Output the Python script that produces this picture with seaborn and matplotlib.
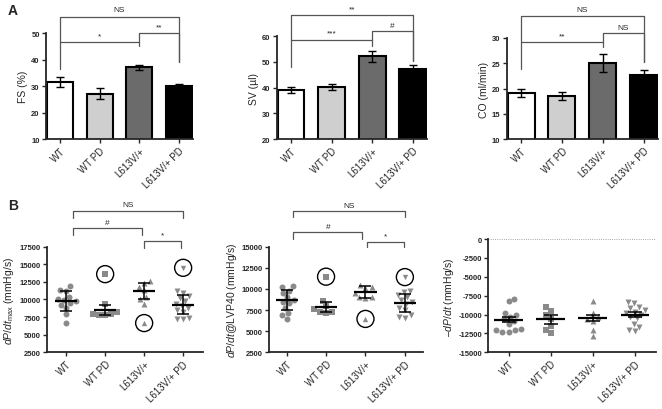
import numpy as np
import pandas as pd
import matplotlib
matplotlib.use("Agg")
import matplotlib.pyplot as plt
import seaborn as sns

# --- groups ---
groups = ["WT", "WT PD", "L613V/+", "L613V/+ PD"]
bar_colors = ["#ffffff", "#cfcfcf", "#6b6b6b", "#000000"]
markers = ["o", "s", "^", "v"]

# --- panel A: bar means and SEM ---
fs_mean = [31.5, 27.2, 37.1, 30.2]
fs_err = [1.8, 2.0, 0.9, 0.7]
sv_mean = [39.1, 40.2, 52.2, 47.2]
sv_err = [1.3, 1.1, 2.1, 1.8]
co_mean = [19.1, 18.45, 25.0, 22.7]
co_err = [0.85, 0.8, 1.8, 1.0]

# --- panel B: individual animals ---
dpmax_wt = [11900, 11300, 11200, 10400, 10100, 9900, 9800, 9500, 9200, 8800, 7900, 6700]
dpmax_wtpd = [9300, 8200, 7900, 7800, 7800, 7900]
dpmax_l613 = [12600, 12300, 11800, 11300, 10300, 10000, 9400]
dpmax_l613pd = [11200, 10900, 10500, 10200, 9800, 9400, 9100, 8800, 8500, 8200, 7300, 7200, 7200]
dpmax_outliers = [None, 13600, 6650, 14500]
dpmax_mean = [9850, 8530, 11180, 9280]
dpmax_err = [1420, 730, 1110, 1300]

lvp_wt = [10300, 10200, 9800, 9500, 9000, 8700, 8500, 8300, 7800, 7200, 6900, 6400]
lvp_wtpd = [8600, 8000, 7600, 7300, 7200, 7300]
lvp_l613 = [10500, 10200, 10100, 9500, 9000, 9000, 8900]
lvp_l613pd = [9700, 9600, 9300, 9000, 8700, 8400, 8200, 7800, 7500, 6900, 6700, 6600]
lvp_outliers = [None, 11450, 6450, 11400]
lvp_mean = [8700, 7870, 9680, 8330]
lvp_err = [1140, 630, 700, 1030]

dpmin_wt = [-7900, -8200, -9800, -10100, -10300, -10600, -10900, -11200, -11900, -12100, -12300, -12300, -12000]
dpmin_wtpd = [-9000, -9500, -10100, -10600, -11500, -12000, -12500]
dpmin_l613 = [-8200, -9800, -10300, -10600, -10800, -12000, -12900]
dpmin_l613pd = [-8400, -8500, -9000, -9200, -9400, -9600, -9800, -10000, -10300, -10500, -11200, -11600, -12100, -12200]
dpmin_mean = [-10670, -10630, -10500, -10000]
dpmin_err = [340, 600, 400, 350]

sns.set_style("ticks")
plt.rcParams["font.family"] = ["Liberation Sans", "DejaVu Sans"]
plt.rcParams["mathtext.fontset"] = "custom"
plt.rcParams["mathtext.rm"] = "Liberation Sans"
plt.rcParams["mathtext.it"] = "Liberation Sans:italic"
plt.rcParams["axes.unicode_minus"] = False

fig = plt.figure(figsize=(6.62, 4.10), dpi=100)


def style_axis(ax, ylabel, yticks, ylim, xlim):
    ax.set_ylim(*ylim)
    ax.set_xlim(*xlim)
    ax.set_yticks(yticks)
    ax.set_yticklabels([str(t) for t in yticks], fontsize=5.5, fontweight="bold")
    ax.set_xticks(range(len(groups)))
    ax.set_xticklabels(groups, fontsize=7, rotation=45, ha="right", rotation_mode="anchor")
    ax.set_xlabel("")
    ax.set_ylabel(ylabel, fontsize=7.5, labelpad=2)
    sns.despine(ax=ax)
    for s in ["left", "bottom"]:
        ax.spines[s].set_linewidth(1.3)
    ax.tick_params(width=1.0, length=3, pad=1.5)


def draw_brackets(ax, brackets):
    for xs, ys, label, lx, ly in brackets:
        ax.plot(xs, ys, color="#555555", lw=0.9, clip_on=False)
        ax.annotate(label, (lx, ly), xytext=(0, 2), textcoords="offset points",
                    ha="center", va="bottom", fontsize=6, annotation_clip=False)


# ---------- panel A ----------
bar_panels = [
    ([0.0695, 0.6585, 0.222, 0.2578], fs_mean, fs_err, "FS (%)", [10, 20, 30, 40, 50], (10, 50),
     [([0, 0, 3, 3], [36.5, 56.2, 56.2, 39], "NS", 1.5, 56.6),
      ([0, 2, 2], [46.8, 46.8, 45.2], "*", 1, 46.6),
      ([2, 2, 3, 3], [46.8, 50, 50, 39], "**", 2.5, 50)]),
    ([0.418, 0.6585, 0.227, 0.2505], sv_mean, sv_err, "SV (\u00b5l)", [20, 30, 40, 50, 60], (20, 60),
     [([0, 0, 3, 3], [47.9, 68.3, 68.3, 50.5], "**", 1.5, 68.3),
      ([0, 2, 2], [58.7, 58.7, 56.4], "***", 1, 58.7),
      ([2, 2, 3, 3], [58.7, 61.9, 61.9, 50.5], "#", 2.5, 61.9)]),
    ([0.7654, 0.6585, 0.2286, 0.2464], co_mean, co_err, "CO (ml/min)", [10, 15, 20, 25, 30], (10, 30),
     [([0, 0, 3, 3], [23.9, 34.4, 34.4, 25.2], "NS", 1.5, 34.4),
      ([0, 2, 2], [29.3, 29.3, 28.3], "**", 1, 29.1),
      ([2, 2, 3, 3], [29.3, 30.9, 30.9, 25.2], "NS", 2.5, 30.9)]),
]

for rect, means, errs, ylabel, yticks, ylim, brackets in bar_panels:
    ax = fig.add_axes(rect)
    sns.barplot(x=groups, y=means, hue=groups, palette=bar_colors, legend=False,
                edgecolor="black", linewidth=1.5, width=0.66, ax=ax)
    ax.errorbar(range(len(groups)), means, yerr=errs, fmt="none", ecolor="black",
                elinewidth=1.0, capsize=3.2, capthick=1.0, zorder=5)
    style_axis(ax, ylabel, yticks, ylim, (-0.35, 3.35))
    draw_brackets(ax, brackets)

# ---------- panel B ----------
scatter_panels = [
    ([0.0705, 0.1383, 0.2356, 0.2576],
     [dpmax_wt, dpmax_wtpd, dpmax_l613, dpmax_l613pd], dpmax_outliers, dpmax_mean, dpmax_err,
     r"$dP/dt_{\mathrm{max}}$ (mmHg/s)", list(range(2500, 17501, 2500)), (2500, 17500), (-0.5, 3.5), 4.2, 0.28,
     [([0.17, 0.17, 3, 3], [21570, 22530, 22530, 21570], "NS", 1.58, 22530),
      ([0.17, 0.17, 1.95, 1.95], [19160, 20110, 20110, 19160], "#", 1.06, 20110),
      ([2.0, 2.0, 2.95, 2.95], [17310, 18270, 18270, 17310], "*", 2.48, 18270)]),
    ([0.4068, 0.1383, 0.2322, 0.2576],
     [lvp_wt, lvp_wtpd, lvp_l613, lvp_l613pd], lvp_outliers, lvp_mean, lvp_err,
     r"$dP/dt$@LVP40 (mmHg/s)", list(range(2500, 15001, 2500)), (2500, 15000), (-0.44, 3.46), 4.2, 0.28,
     [([0.17, 0.17, 3, 3], [18480, 19190, 19190, 18480], "NS", 1.58, 19190),
      ([0.17, 0.17, 1.92, 1.92], [15910, 16700, 16700, 15910], "#", 1.05, 16700),
      ([2.03, 2.03, 2.98, 2.98], [15000, 15590, 15590, 15000], "*", 2.5, 15590)]),
    ([0.7376, 0.1383, 0.2533, 0.2763],
     [dpmin_wt, dpmin_wtpd, dpmin_l613, dpmin_l613pd], [None] * 4, dpmin_mean, dpmin_err,
     "\u2013" + r"$dP/dt$ (mmHg/s)", list(range(-15000, 1, 2500)), (-15000, 0), (-0.48, 3.5), 5.2, 0.34,
     []),
]

for (rect, values, outliers, means, errs, ylabel, yticks, ylim, xlim,
     capsize, half_w, brackets) in scatter_panels:
    ax = fig.add_axes(rect)
    for g, vals, mk, out in zip(groups, values, markers, outliers):
        sns.swarmplot(x=[g] * len(vals), y=vals, order=groups, marker=mk, color="#8a8a8a",
                      size=4.3, linewidth=0, ax=ax, warn_thresh=1)
        if out is not None:
            i = groups.index(g)
            ax.scatter([i], [out], marker=mk, s=15, color="#8a8a8a", linewidths=0, zorder=3)
            ax.scatter([i], [out], marker="o", s=150, facecolors="none",
                       edgecolors="black", linewidths=1.0, zorder=3)
    xs = np.arange(len(groups))
    ax.hlines(means, xs - half_w, xs + half_w, color="black", lw=1.6, zorder=6)
    ax.errorbar(xs, means, yerr=errs, fmt="none", ecolor="black", elinewidth=1.1,
                capsize=capsize, capthick=1.1, zorder=6)
    if ylim[1] == 0:
        ax.axhline(0, color="#888888", lw=0.6, ls=":", zorder=1)
    style_axis(ax, ylabel, yticks, ylim, xlim)
    draw_brackets(ax, brackets)

fig.text(0.012, 0.972, "A", fontsize=10, fontweight="bold", va="center")
fig.text(0.012, 0.497, "B", fontsize=10, fontweight="bold", va="center")

fig.savefig("out.png", dpi=100)
